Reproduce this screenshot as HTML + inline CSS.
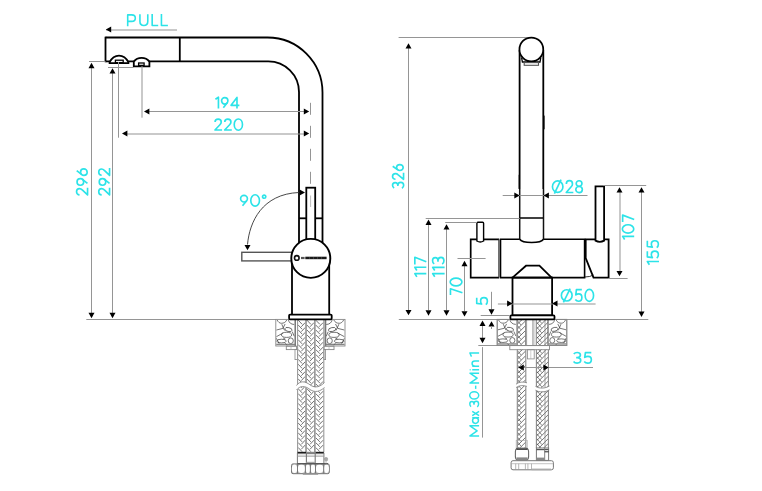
<!DOCTYPE html>
<html><head><meta charset="utf-8"><style>
html,body{margin:0;padding:0;background:#fff;}
svg{display:block;}
text{font-family:"Liberation Sans",sans-serif;stroke:#2ce3e8;stroke-width:0.15px;}
</style></head><body>
<svg width="762" height="491" viewBox="0 0 762 491">
<rect width="762" height="491" fill="#fff"/>
<path d="M105.5,37.5 H267.5 A55,55 0 0 1 322.5,92.5 V243" stroke="#000" stroke-width="1.8" fill="none" />
<path d="M105.5,61.4 H268.3 A30.7,30.7 0 0 1 299,92.1 V243" stroke="#000" stroke-width="1.8" fill="none" />
<line x1="105.5" y1="36.7" x2="105.5" y2="62.2" stroke="#000" stroke-width="1.8" />
<line x1="179.8" y1="37.5" x2="179.8" y2="61.4" stroke="#000" stroke-width="1.8" />
<path d="M109.6,63.2 H128.4 V62.2 C126,57.5 122.5,55.6 119,55.6 C115.5,55.6 112,57.5 109.6,62.2 Z" stroke="#000" stroke-width="1.8" fill="#fff" />
<rect x="115.4" y="60.2" width="7.80" height="2.40" stroke="#000" stroke-width="1.3" fill="#fff" />
<path d="M133.8,66.3 H149.4 V61.6 C147.5,59 145,57.8 141.6,57.8 C138.2,57.8 135.7,59 133.8,61.6 Z" stroke="#000" stroke-width="1.8" fill="#fff" />
<rect x="138.6" y="63" width="5.50" height="2.40" stroke="#000" stroke-width="1.3" fill="#fff" />
<line x1="299" y1="218.3" x2="306.3" y2="218.3" stroke="#000" stroke-width="1.8" />
<line x1="315.2" y1="218.3" x2="322.5" y2="218.3" stroke="#000" stroke-width="1.8" />
<rect x="306.3" y="187.7" width="8.90" height="52.30" stroke="#000" stroke-width="1.8" fill="#fff" />
<line x1="310.6" y1="195.5" x2="310.6" y2="207" stroke="#aaa" stroke-width="0.8" />
<line x1="310.5" y1="102.8" x2="310.5" y2="186" stroke="#959595" stroke-width="1" stroke-dasharray="12 11"/>
<line x1="292" y1="262" x2="292" y2="314.5" stroke="#000" stroke-width="1.8" />
<line x1="329.2" y1="262" x2="329.2" y2="314.5" stroke="#000" stroke-width="1.8" />
<rect x="241.8" y="252.3" width="51.20" height="8.60" stroke="#555" stroke-width="1.4" fill="#fff" />
<circle cx="310.8" cy="258.4" r="19.5" stroke="#000" stroke-width="1.9" fill="#fff"/>
<circle cx="296.8" cy="257.9" r="2.3" stroke="#111" stroke-width="1.6" fill="none"/>
<rect x="301" y="256.9" width="3.60" height="2.20" stroke="none" stroke-width="0" fill="#555" />
<rect x="305.3" y="256.7" width="21.30" height="2.50" stroke="none" stroke-width="0" fill="#1a1a1a" />
<rect x="309.2" y="257.4" width="0.50" height="1.20" stroke="none" stroke-width="0" fill="#888" />
<rect x="313.3" y="257.4" width="0.50" height="1.20" stroke="none" stroke-width="0" fill="#888" />
<rect x="317.4" y="257.4" width="0.50" height="1.20" stroke="none" stroke-width="0" fill="#888" />
<rect x="321.5" y="257.4" width="0.50" height="1.20" stroke="none" stroke-width="0" fill="#888" />
<path d="M247.5,244.5 C249.5,222 262,194 299,192.5" stroke="#333" stroke-width="0.9" fill="none" />
<polygon points="244.50,244.90 250.50,244.90 247.50,250.30" fill="#000"/>
<polygon points="299.60,189.50 299.60,195.50 305.00,192.50" fill="#000"/>
<g transform="matrix(1.0643,0,0,1.0250,239.80,194.30)" fill="none" stroke="#2ce3e8" stroke-width="1.65" stroke-linejoin="round"><g transform="translate(0.00,0)"><circle cx="3.95" cy="4.3" r="3.2" vector-effect="non-scaling-stroke"/><path d="M6.45,6.28 L2.55,11.2" vector-effect="non-scaling-stroke"/></g><g transform="translate(9.60,0)"><ellipse cx="4.8" cy="6" rx="4.08" ry="5.55" vector-effect="non-scaling-stroke"/></g><g transform="translate(20.90,0)"><circle cx="2.0" cy="2.3" r="1.55" vector-effect="non-scaling-stroke"/></g></g>
<line x1="106" y1="30" x2="177" y2="30" stroke="#939393" stroke-width="1" />
<polygon points="111.20,26.50 111.20,32.50 105.80,29.50" fill="#000"/>
<g transform="matrix(1.1190,0,0,1.0083,126.80,14.10)" fill="none" stroke="#2ce3e8" stroke-width="1.6" stroke-linejoin="round"><path d="M0.8,12 V0.8 H4.4 C6.4,0.8 7.6,2.1 7.6,4.0 C7.6,5.9 6.4,7.2 4.4,7.2 H0.8" vector-effect="non-scaling-stroke"/></g><g transform="matrix(1.0326,0,0,1.0083,139.10,14.10)" fill="none" stroke="#2ce3e8" stroke-width="1.6" stroke-linejoin="round"><path d="M0.8,0.2 V7.4 C0.8,10 2.4,11.3 4.6,11.3 C6.8,11.3 8.4,10 8.4,7.4 V0.2" vector-effect="non-scaling-stroke"/></g><g transform="matrix(0.9714,0,0,1.0083,151.40,14.10)" fill="none" stroke="#2ce3e8" stroke-width="1.6" stroke-linejoin="round"><path d="M0.8,0 V11.25 H7" vector-effect="non-scaling-stroke"/></g><g transform="matrix(1.0429,0,0,1.0083,160.60,14.10)" fill="none" stroke="#2ce3e8" stroke-width="1.6" stroke-linejoin="round"><path d="M0.8,0 V11.25 H7" vector-effect="non-scaling-stroke"/></g>
<line x1="89" y1="61.5" x2="105.5" y2="61.5" stroke="#959595" stroke-width="1" />
<line x1="108" y1="67.5" x2="133.5" y2="67.5" stroke="#959595" stroke-width="1" />
<line x1="91.5" y1="66" x2="91.5" y2="313" stroke="#959595" stroke-width="1" />
<polygon points="88.50,68.20 94.50,68.20 91.50,62.80" fill="#000"/>
<polygon points="88.50,312.80 94.50,312.80 91.50,318.20" fill="#000"/>
<line x1="112.5" y1="70" x2="112.5" y2="313" stroke="#959595" stroke-width="1" />
<polygon points="109.50,73.60 115.50,73.60 112.50,68.20" fill="#000"/>
<polygon points="109.50,312.80 115.50,312.80 112.50,318.20" fill="#000"/>
<g transform="matrix(0,-1.0221,1.0333,0,75.90,195.80)" fill="none" stroke="#2ce3e8" stroke-width="1.65" stroke-linejoin="round"><g transform="translate(0.00,0)"><path d="M0.95,3.5 C0.95,1.8 2.3,0.62 4.0,0.62 C5.8,0.62 7.05,1.85 7.05,3.5 C7.05,4.55 6.55,5.35 5.75,6.15 L0.85,11.28 H7.9" vector-effect="non-scaling-stroke"/></g><g transform="translate(9.60,0)"><circle cx="3.95" cy="4.3" r="3.2" vector-effect="non-scaling-stroke"/><path d="M6.45,6.28 L2.55,11.2" vector-effect="non-scaling-stroke"/></g><g transform="translate(19.20,0)"><circle cx="3.95" cy="7.7" r="3.2" vector-effect="non-scaling-stroke"/><path d="M1.45,5.72 L5.35,0.8" vector-effect="non-scaling-stroke"/></g></g>
<g transform="matrix(0,-1.0221,1.0167,0,98.10,195.80)" fill="none" stroke="#2ce3e8" stroke-width="1.65" stroke-linejoin="round"><g transform="translate(0.00,0)"><path d="M0.95,3.5 C0.95,1.8 2.3,0.62 4.0,0.62 C5.8,0.62 7.05,1.85 7.05,3.5 C7.05,4.55 6.55,5.35 5.75,6.15 L0.85,11.28 H7.9" vector-effect="non-scaling-stroke"/></g><g transform="translate(9.60,0)"><circle cx="3.95" cy="4.3" r="3.2" vector-effect="non-scaling-stroke"/><path d="M6.45,6.28 L2.55,11.2" vector-effect="non-scaling-stroke"/></g><g transform="translate(19.20,0)"><path d="M0.95,3.5 C0.95,1.8 2.3,0.62 4.0,0.62 C5.8,0.62 7.05,1.85 7.05,3.5 C7.05,4.55 6.55,5.35 5.75,6.15 L0.85,11.28 H7.9" vector-effect="non-scaling-stroke"/></g></g>
<line x1="86.3" y1="319.5" x2="276" y2="319.5" stroke="#959595" stroke-width="1" />
<line x1="118.5" y1="62" x2="118.5" y2="137.7" stroke="#959595" stroke-width="1" />
<line x1="142.0" y1="66" x2="142.0" y2="117.7" stroke="#939393" stroke-width="1" />
<line x1="148" y1="111.5" x2="304" y2="111.5" stroke="#959595" stroke-width="1" />
<polygon points="149.40,108.50 149.40,114.50 144.00,111.50" fill="#000"/>
<polygon points="303.80,108.50 303.80,114.50 309.20,111.50" fill="#000"/>
<line x1="126" y1="134" x2="304" y2="134" stroke="#939393" stroke-width="1" />
<polygon points="127.40,130.50 127.40,136.50 122.00,133.50" fill="#000"/>
<polygon points="303.80,130.50 303.80,136.50 309.20,133.50" fill="#000"/>
<g transform="matrix(0.9879,0,0,1.0083,215.00,96.50)" fill="none" stroke="#2ce3e8" stroke-width="1.65" stroke-linejoin="round"><g transform="translate(0.00,0)"><path d="M0.45,2.7 L3.48,0.72 V12" vector-effect="non-scaling-stroke"/></g><g transform="translate(5.90,0)"><circle cx="3.95" cy="4.3" r="3.2" vector-effect="non-scaling-stroke"/><path d="M6.45,6.28 L2.55,11.2" vector-effect="non-scaling-stroke"/></g><g transform="translate(15.50,0)"><path d="M6.75,12 V0.9 L0.75,8.75 H9.2" vector-effect="non-scaling-stroke"/></g></g>
<g transform="matrix(1.0104,0,0,1.0167,214.10,118.50)" fill="none" stroke="#2ce3e8" stroke-width="1.65" stroke-linejoin="round"><g transform="translate(0.00,0)"><path d="M0.95,3.5 C0.95,1.8 2.3,0.62 4.0,0.62 C5.8,0.62 7.05,1.85 7.05,3.5 C7.05,4.55 6.55,5.35 5.75,6.15 L0.85,11.28 H7.9" vector-effect="non-scaling-stroke"/></g><g transform="translate(9.60,0)"><path d="M0.95,3.5 C0.95,1.8 2.3,0.62 4.0,0.62 C5.8,0.62 7.05,1.85 7.05,3.5 C7.05,4.55 6.55,5.35 5.75,6.15 L0.85,11.28 H7.9" vector-effect="non-scaling-stroke"/></g><g transform="translate(19.20,0)"><ellipse cx="4.8" cy="6" rx="4.08" ry="5.55" vector-effect="non-scaling-stroke"/></g></g>
<line x1="398.6" y1="37.5" x2="531" y2="37.5" stroke="#959595" stroke-width="1" />
<line x1="398.8" y1="319.5" x2="648.3" y2="319.5" stroke="#959595" stroke-width="1" />
<line x1="519.6" y1="50" x2="519.6" y2="189" stroke="#000" stroke-width="1.8" />
<line x1="543.3" y1="50" x2="543.3" y2="189" stroke="#000" stroke-width="1.8" />
<line x1="519.7" y1="189" x2="519.7" y2="239.6" stroke="#111" stroke-width="1.5" />
<line x1="543.5" y1="189" x2="543.5" y2="239.6" stroke="#111" stroke-width="1.5" />
<line x1="519.2" y1="174.8" x2="519.2" y2="188.8" stroke="#000" stroke-width="1.0" />
<line x1="544.1" y1="115.6" x2="544.1" y2="129.3" stroke="#000" stroke-width="1.0" />
<line x1="519.7" y1="218" x2="543.5" y2="218" stroke="#111" stroke-width="1.6" />
<path d="M519.7,239.3 C522.5,243.6 540.7,243.6 543.5,239.3" stroke="#000" stroke-width="1.6" fill="none" />
<circle cx="531.35" cy="49.4" r="11.9" stroke="#000" stroke-width="1.75" fill="#fff"/>
<path d="M527,61.6 Q531.3,62.6 535.6,61.6" stroke="#000" stroke-width="1.6" fill="none"/>
<path d="M521.6,57.6 L522.4,62 H540 L540.8,57.6" stroke="#000" stroke-width="1.3" fill="none" />
<rect x="524.2" y="62.6" width="14.30" height="2.70" stroke="#555" stroke-width="1.1" fill="none" />
<path d="M519.7,239.3 H500.5 V277.6 H584.6 V239.3 H543.5" stroke="#000" stroke-width="1.6" fill="none" />
<path d="M499.0,239.3 H470.7 V277.6 H499.0" stroke="#000" stroke-width="1.7" fill="none" />
<line x1="498.9" y1="239.3" x2="498.9" y2="277.6" stroke="#333" stroke-width="1.2" />
<path d="M476.9,241 V223.2 Q476.9,222.2 477.9,222.2 H482.6 Q483.6,222.2 483.6,223.2 V241 Q480.25,243 476.9,241 Z" stroke="#000" stroke-width="1.4" fill="#fff" />
<path d="M585.7,239.3 H608.6 V277.6 H593.5 L585.7,258 Z" stroke="#000" stroke-width="1.8" fill="none" />
<path d="M584.6,277 Q590,277 593.5,275" stroke="#000" stroke-width="0.8" fill="none" />
<path d="M595.5,240.6 V186.4 H604.1 V240.6 Q599.8,243 595.5,240.6 Z" stroke="#000" stroke-width="1.8" fill="#fff" />
<path d="M512.5,277.6 L526,265.7 H539.4 L551.6,277.6" stroke="#000" stroke-width="1.8" fill="none" />
<rect x="512.5" y="277.6" width="39.60" height="37.80" stroke="#000" stroke-width="1.8" fill="none" />
<line x1="408.5" y1="48" x2="408.5" y2="310" stroke="#959595" stroke-width="1" />
<polygon points="405.50,48.60 411.50,48.60 408.50,43.20" fill="#000"/>
<polygon points="405.50,309.90 411.50,309.90 408.50,315.30" fill="#000"/>
<g transform="matrix(0,-0.9257,1.0333,0,391.90,188.80)" fill="none" stroke="#2ce3e8" stroke-width="1.65" stroke-linejoin="round"><g transform="translate(0.00,0)"><path d="M0.8,2.2 C1.5,1.1 2.6,0.62 3.8,0.62 C5.5,0.62 6.7,1.7 6.7,3.2 C6.7,4.75 5.5,5.75 3.8,5.75 H2.9 M3.8,5.75 C5.75,5.75 6.98,6.95 6.98,8.6 C6.98,10.3 5.6,11.38 3.75,11.38 C2.4,11.38 1.25,10.8 0.6,9.7" vector-effect="non-scaling-stroke"/></g><g transform="translate(9.40,0)"><path d="M0.95,3.5 C0.95,1.8 2.3,0.62 4.0,0.62 C5.8,0.62 7.05,1.85 7.05,3.5 C7.05,4.55 6.55,5.35 5.75,6.15 L0.85,11.28 H7.9" vector-effect="non-scaling-stroke"/></g><g transform="translate(19.00,0)"><circle cx="3.95" cy="7.7" r="3.2" vector-effect="non-scaling-stroke"/><path d="M1.45,5.72 L5.35,0.8" vector-effect="non-scaling-stroke"/></g></g>
<line x1="425.7" y1="218.5" x2="519.7" y2="218.5" stroke="#959595" stroke-width="1" />
<line x1="445.2" y1="222.5" x2="477" y2="222.5" stroke="#959595" stroke-width="1" />
<line x1="457.5" y1="258.5" x2="485.6" y2="258.5" stroke="#959595" stroke-width="1" />
<line x1="428.5" y1="224" x2="428.5" y2="310" stroke="#959595" stroke-width="1" />
<polygon points="425.50,225.00 431.50,225.00 428.50,219.60" fill="#000"/>
<polygon points="425.50,310.30 431.50,310.30 428.50,315.70" fill="#000"/>
<line x1="446.5" y1="228" x2="446.5" y2="310" stroke="#959595" stroke-width="1" />
<polygon points="443.50,229.60 449.50,229.60 446.50,224.20" fill="#000"/>
<polygon points="443.50,310.30 449.50,310.30 446.50,315.70" fill="#000"/>
<line x1="464.5" y1="265" x2="464.5" y2="311" stroke="#959595" stroke-width="1" />
<polygon points="461.50,266.20 467.50,266.20 464.50,260.80" fill="#000"/>
<polygon points="461.50,311.20 467.50,311.20 464.50,316.60" fill="#000"/>
<g transform="matrix(0,-1.0670,1.0167,0,414.10,277.30)" fill="none" stroke="#2ce3e8" stroke-width="1.65" stroke-linejoin="round"><g transform="translate(0.00,0)"><path d="M0.45,2.7 L3.48,0.72 V12" vector-effect="non-scaling-stroke"/></g><g transform="translate(5.90,0)"><path d="M0.45,2.7 L3.48,0.72 V12" vector-effect="non-scaling-stroke"/></g><g transform="translate(11.80,0)"><path d="M0.3,0.72 H7.0 L2.7,12" vector-effect="non-scaling-stroke"/></g></g>
<g transform="matrix(0,-1.0615,1.0583,0,431.90,277.30)" fill="none" stroke="#2ce3e8" stroke-width="1.65" stroke-linejoin="round"><g transform="translate(0.00,0)"><path d="M0.45,2.7 L3.48,0.72 V12" vector-effect="non-scaling-stroke"/></g><g transform="translate(5.90,0)"><path d="M0.45,2.7 L3.48,0.72 V12" vector-effect="non-scaling-stroke"/></g><g transform="translate(11.80,0)"><path d="M0.8,2.2 C1.5,1.1 2.6,0.62 3.8,0.62 C5.5,0.62 6.7,1.7 6.7,3.2 C6.7,4.75 5.5,5.75 3.8,5.75 H2.9 M3.8,5.75 C5.75,5.75 6.98,6.95 6.98,8.6 C6.98,10.3 5.6,11.38 3.75,11.38 C2.4,11.38 1.25,10.8 0.6,9.7" vector-effect="non-scaling-stroke"/></g></g>
<g transform="matrix(0,-0.9418,1.0583,0,449.70,295.30)" fill="none" stroke="#2ce3e8" stroke-width="1.65" stroke-linejoin="round"><g transform="translate(0.00,0)"><path d="M0.3,0.72 H7.0 L2.7,12" vector-effect="non-scaling-stroke"/></g><g transform="translate(9.30,0)"><ellipse cx="4.8" cy="6" rx="4.08" ry="5.55" vector-effect="non-scaling-stroke"/></g></g>
<g transform="matrix(0,-1.0897,1.0000,0,476.00,305.30)" fill="none" stroke="#2ce3e8" stroke-width="1.65" stroke-linejoin="round"><g transform="translate(0.00,0)"><path d="M7.0,0.72 H1.75 L1.15,5.6 C1.95,4.95 2.95,4.6 4.0,4.6 C5.85,4.6 7.05,5.95 7.05,7.95 C7.05,10.05 5.6,11.38 3.8,11.38 C2.45,11.38 1.35,10.75 0.7,9.8" vector-effect="non-scaling-stroke"/></g></g>
<line x1="491.5" y1="291.8" x2="491.5" y2="309" stroke="#959595" stroke-width="1" />
<polygon points="488.50,309.30 494.50,309.30 491.50,314.70" fill="#000"/>
<line x1="480.7" y1="315.5" x2="509.5" y2="315.5" stroke="#959595" stroke-width="1" />
<polygon points="488.50,326.60 494.50,326.60 491.50,321.20" fill="#000"/>
<line x1="491.5" y1="326" x2="491.5" y2="329" stroke="#959595" stroke-width="1" />
<line x1="482.5" y1="326" x2="482.5" y2="338" stroke="#959595" stroke-width="1" />
<polygon points="479.50,326.00 485.50,326.00 482.50,320.60" fill="#000"/>
<polygon points="479.50,337.80 485.50,337.80 482.50,343.20" fill="#000"/>
<line x1="478.3" y1="345.5" x2="497.6" y2="345.5" stroke="#959595" stroke-width="1" />
<line x1="482.5" y1="347.1" x2="482.5" y2="437.6" stroke="#959595" stroke-width="1" />
<g transform="matrix(0,-0.8582,0.8167,0,469.30,436.60)" fill="none" stroke="#2ce3e8" stroke-width="1.45" stroke-linejoin="round"><path d="M0.8,12 V0.8 L6.7,9.6 L12.6,0.8 V12" vector-effect="non-scaling-stroke"/></g><g transform="matrix(0,-0.8353,0.8167,0,469.30,424.10)" fill="none" stroke="#2ce3e8" stroke-width="1.45" stroke-linejoin="round"><ellipse cx="4.2" cy="7.6" rx="3.4" ry="3.6" vector-effect="non-scaling-stroke"/><path d="M7.7,3.6 V12" vector-effect="non-scaling-stroke"/></g><g transform="matrix(0,-0.7727,0.8167,0,469.30,416.00)" fill="none" stroke="#2ce3e8" stroke-width="1.45" stroke-linejoin="round"><path d="M0.6,3.6 L6,12 M6,3.6 L0.6,12" vector-effect="non-scaling-stroke"/></g><g transform="matrix(0,-0.8571,0.8167,0,469.30,407.30)" fill="none" stroke="#2ce3e8" stroke-width="1.45" stroke-linejoin="round"><path d="M0.8,2.2 C1.5,1.1 2.6,0.62 3.8,0.62 C5.5,0.62 6.7,1.7 6.7,3.2 C6.7,4.75 5.5,5.75 3.8,5.75 H2.9 M3.8,5.75 C5.75,5.75 6.98,6.95 6.98,8.6 C6.98,10.3 5.6,11.38 3.75,11.38 C2.4,11.38 1.25,10.8 0.6,9.7" vector-effect="non-scaling-stroke"/></g><g transform="matrix(0,-0.9062,0.8167,0,469.30,399.70)" fill="none" stroke="#2ce3e8" stroke-width="1.45" stroke-linejoin="round"><ellipse cx="4.8" cy="6" rx="4.08" ry="5.55" vector-effect="non-scaling-stroke"/></g><g transform="matrix(0,-0.8367,0.8167,0,469.30,389.30)" fill="none" stroke="#2ce3e8" stroke-width="1.45" stroke-linejoin="round"><path d="M0.5,7.8 H4.4" vector-effect="non-scaling-stroke"/></g><g transform="matrix(0,-0.8358,0.8167,0,469.30,383.70)" fill="none" stroke="#2ce3e8" stroke-width="1.45" stroke-linejoin="round"><path d="M0.8,12 V0.8 L6.7,9.6 L12.6,0.8 V12" vector-effect="non-scaling-stroke"/></g><g transform="matrix(0,-0.8421,0.8167,0,469.30,370.50)" fill="none" stroke="#2ce3e8" stroke-width="1.45" stroke-linejoin="round"><path d="M0.95,3.6 V12 M0.95,0.5 V1.6" vector-effect="non-scaling-stroke"/></g><g transform="matrix(0,-0.8354,0.8167,0,469.30,366.90)" fill="none" stroke="#2ce3e8" stroke-width="1.45" stroke-linejoin="round"><path d="M0.8,12 V3.6 M0.8,7.4 C0.8,5 2.4,3.4 4.4,3.4 C6.2,3.4 7.1,4.7 7.1,6.8 V12" vector-effect="non-scaling-stroke"/></g><g transform="matrix(0,-1.2143,0.8167,0,469.30,357.20)" fill="none" stroke="#2ce3e8" stroke-width="1.45" stroke-linejoin="round"><path d="M0.45,2.7 L3.48,0.72 V12" vector-effect="non-scaling-stroke"/></g>
<line x1="502.7" y1="195.5" x2="587.5" y2="195.5" stroke="#959595" stroke-width="1" />
<polygon points="514.30,192.50 514.30,198.50 519.70,195.50" fill="#000"/>
<polygon points="548.90,192.50 548.90,198.50 543.50,195.50" fill="#000"/>
<g transform="matrix(1.0064,0,0,1.1083,551.70,180.00)" fill="none" stroke="#2ce3e8" stroke-width="1.65" stroke-linejoin="round"><g transform="translate(0.00,0)"><ellipse cx="5.95" cy="6" rx="5.2" ry="5.2" vector-effect="non-scaling-stroke"/><path d="M2.7,12.35 L9.3,-0.35" vector-effect="non-scaling-stroke"/></g><g transform="translate(13.60,0)"><path d="M0.95,3.5 C0.95,1.8 2.3,0.62 4.0,0.62 C5.8,0.62 7.05,1.85 7.05,3.5 C7.05,4.55 6.55,5.35 5.75,6.15 L0.85,11.28 H7.9" vector-effect="non-scaling-stroke"/></g><g transform="translate(23.20,0)"><ellipse cx="4" cy="3.15" rx="2.85" ry="2.5" vector-effect="non-scaling-stroke"/><ellipse cx="4" cy="8.6" rx="3.25" ry="2.75" vector-effect="non-scaling-stroke"/></g></g>
<line x1="497.9" y1="304" x2="595.6" y2="304" stroke="#939393" stroke-width="1" />
<polygon points="507.10,300.50 507.10,306.50 512.50,303.50" fill="#000"/>
<polygon points="557.50,300.50 557.50,306.50 552.10,303.50" fill="#000"/>
<g transform="matrix(1.0306,0,0,1.0833,560.60,288.90)" fill="none" stroke="#2ce3e8" stroke-width="1.65" stroke-linejoin="round"><g transform="translate(0.00,0)"><ellipse cx="5.95" cy="6" rx="5.2" ry="5.2" vector-effect="non-scaling-stroke"/><path d="M2.7,12.35 L9.3,-0.35" vector-effect="non-scaling-stroke"/></g><g transform="translate(13.60,0)"><path d="M7.0,0.72 H1.75 L1.15,5.6 C1.95,4.95 2.95,4.6 4.0,4.6 C5.85,4.6 7.05,5.95 7.05,7.95 C7.05,10.05 5.6,11.38 3.8,11.38 C2.45,11.38 1.35,10.75 0.7,9.8" vector-effect="non-scaling-stroke"/></g><g transform="translate(23.10,0)"><ellipse cx="4.8" cy="6" rx="4.08" ry="5.55" vector-effect="non-scaling-stroke"/></g></g>
<line x1="603" y1="185.5" x2="646.2" y2="185.5" stroke="#959595" stroke-width="1" />
<line x1="608" y1="278.5" x2="627.6" y2="278.5" stroke="#959595" stroke-width="1" />
<line x1="620.0" y1="192" x2="620.0" y2="271" stroke="#939393" stroke-width="1" />
<polygon points="616.50,192.60 622.50,192.60 619.50,187.20" fill="#000"/>
<polygon points="616.50,270.90 622.50,270.90 619.50,276.30" fill="#000"/>
<line x1="641.5" y1="192" x2="641.5" y2="312" stroke="#959595" stroke-width="1" />
<polygon points="638.50,192.60 644.50,192.60 641.50,187.20" fill="#000"/>
<polygon points="638.50,311.60 644.50,311.60 641.50,317.00" fill="#000"/>
<g transform="matrix(0,-1.0242,1.0250,0,621.90,239.90)" fill="none" stroke="#2ce3e8" stroke-width="1.65" stroke-linejoin="round"><g transform="translate(0.00,0)"><path d="M0.45,2.7 L3.48,0.72 V12" vector-effect="non-scaling-stroke"/></g><g transform="translate(5.90,0)"><ellipse cx="4.8" cy="6" rx="4.08" ry="5.55" vector-effect="non-scaling-stroke"/></g><g transform="translate(17.20,0)"><path d="M0.3,0.72 H7.0 L2.7,12" vector-effect="non-scaling-stroke"/></g></g>
<g transform="matrix(0,-1.0948,1.0333,0,646.60,265.30)" fill="none" stroke="#2ce3e8" stroke-width="1.65" stroke-linejoin="round"><g transform="translate(0.00,0)"><path d="M0.45,2.7 L3.48,0.72 V12" vector-effect="non-scaling-stroke"/></g><g transform="translate(5.90,0)"><path d="M7.0,0.72 H1.75 L1.15,5.6 C1.95,4.95 2.95,4.6 4.0,4.6 C5.85,4.6 7.05,5.95 7.05,7.95 C7.05,10.05 5.6,11.38 3.8,11.38 C2.45,11.38 1.35,10.75 0.7,9.8" vector-effect="non-scaling-stroke"/></g><g transform="translate(15.40,0)"><path d="M7.0,0.72 H1.75 L1.15,5.6 C1.95,4.95 2.95,4.6 4.0,4.6 C5.85,4.6 7.05,5.95 7.05,7.95 C7.05,10.05 5.6,11.38 3.8,11.38 C2.45,11.38 1.35,10.75 0.7,9.8" vector-effect="non-scaling-stroke"/></g></g>
<g transform="matrix(1.1221,0,0,0.9833,572.90,351.90)" fill="none" stroke="#2ce3e8" stroke-width="1.65" stroke-linejoin="round"><g transform="translate(0.00,0)"><path d="M0.8,2.2 C1.5,1.1 2.6,0.62 3.8,0.62 C5.5,0.62 6.7,1.7 6.7,3.2 C6.7,4.75 5.5,5.75 3.8,5.75 H2.9 M3.8,5.75 C5.75,5.75 6.98,6.95 6.98,8.6 C6.98,10.3 5.6,11.38 3.75,11.38 C2.4,11.38 1.25,10.8 0.6,9.7" vector-effect="non-scaling-stroke"/></g><g transform="translate(9.40,0)"><path d="M7.0,0.72 H1.75 L1.15,5.6 C1.95,4.95 2.95,4.6 4.0,4.6 C5.85,4.6 7.05,5.95 7.05,7.95 C7.05,10.05 5.6,11.38 3.8,11.38 C2.45,11.38 1.35,10.75 0.7,9.8" vector-effect="non-scaling-stroke"/></g></g>
<g transform="translate(275.8,319.4) scale(0.9800000000000001,1.0230769230769232)" fill="none" stroke="#3a3a3a" stroke-width="0.7">
<path d="M1.25,0.4 C2.5,2.8 4,3.8 5.8,3.8 C8,3.8 10,3 11.3,0.4"/>
<path d="M12.9,0.6 C13.5,3.2 15.5,4.8 18.8,5"/>
<ellipse cx="12.9" cy="9.9" rx="3.7" ry="1.9" transform="rotate(12 12.9 9.9)"/>
<ellipse cx="11" cy="15.1" rx="5.2" ry="2.5"/>
<ellipse cx="5.8" cy="21.2" rx="4.9" ry="1.8"/>
<ellipse cx="15.3" cy="20.9" rx="2.6" ry="2.8"/>
<path d="M0.6,16.9 L7.4,13.3 M6.1,4.7 L8.9,10.8 M9.5,4.5 L7.2,8.8 L0.6,10.4 M0.6,18.5 L3.5,23.8 M9.5,23.2 L11.5,25.3 M16.8,12 L18.8,16.5 M7.5,18.2 L9.8,19.3 M0.5,24.6 H19.5"/>
</g>
<rect x="275.8" y="319.4" width="19.60" height="26.60" stroke="#888" stroke-width="0.9" fill="none" />
<line x1="276.3" y1="344.0" x2="294.90000000000003" y2="344.0" stroke="#999" stroke-width="0.7" />
<g transform="translate(345.0,319.4) scale(-1.0,1.0230769230769232)" fill="none" stroke="#3a3a3a" stroke-width="0.7">
<path d="M1.25,0.4 C2.5,2.8 4,3.8 5.8,3.8 C8,3.8 10,3 11.3,0.4"/>
<path d="M12.9,0.6 C13.5,3.2 15.5,4.8 18.8,5"/>
<ellipse cx="12.9" cy="9.9" rx="3.7" ry="1.9" transform="rotate(12 12.9 9.9)"/>
<ellipse cx="11" cy="15.1" rx="5.2" ry="2.5"/>
<ellipse cx="5.8" cy="21.2" rx="4.9" ry="1.8"/>
<ellipse cx="15.3" cy="20.9" rx="2.6" ry="2.8"/>
<path d="M0.6,16.9 L7.4,13.3 M6.1,4.7 L8.9,10.8 M9.5,4.5 L7.2,8.8 L0.6,10.4 M0.6,18.5 L3.5,23.8 M9.5,23.2 L11.5,25.3 M16.8,12 L18.8,16.5 M7.5,18.2 L9.8,19.3 M0.5,24.6 H19.5"/>
</g>
<rect x="325.0" y="319.4" width="20.00" height="26.60" stroke="#888" stroke-width="0.9" fill="none" />
<line x1="325.5" y1="344.0" x2="344.5" y2="344.0" stroke="#999" stroke-width="0.7" />
<line x1="295.2" y1="319.4" x2="295.2" y2="346" stroke="#777" stroke-width="1.4" />
<line x1="325.6" y1="319.4" x2="325.6" y2="346" stroke="#777" stroke-width="1.4" />
<rect x="286.3" y="346.2" width="10.30" height="3.40" stroke="#888" stroke-width="0.9" fill="none" />
<rect x="324.0" y="346.2" width="10.00" height="3.40" stroke="#888" stroke-width="0.9" fill="none" />
<line x1="291" y1="346.2" x2="291" y2="349.6" stroke="#aaa" stroke-width="0.6" />
<line x1="329" y1="346.2" x2="329" y2="349.6" stroke="#aaa" stroke-width="0.6" />
<rect x="295.0" y="349.6" width="2.40" height="10.00" stroke="#888" stroke-width="0.8" fill="none" />
<rect x="323.9" y="349.6" width="1.70" height="10.00" stroke="#888" stroke-width="0.8" fill="none" />
<path d="M298.20,320.10 L302.10,324.30 M301.30,326.75 L305.20,322.55 M298.20,325.00 L302.10,329.20 M301.30,331.65 L305.20,327.45 M298.20,329.90 L302.10,334.10 M301.30,336.55 L305.20,332.35 M298.20,334.80 L302.10,339.00 M301.30,341.45 L305.20,337.25 M298.20,339.70 L302.10,343.90 M301.30,346.35 L305.20,342.15 M298.20,344.60 L302.10,348.80 M301.30,351.25 L305.20,347.05 M298.20,349.50 L302.10,353.70 M301.30,356.15 L305.20,351.95 M298.20,354.40 L302.10,358.60 M301.30,361.05 L305.20,356.85 M298.20,359.30 L302.10,363.50 M301.30,365.95 L305.20,361.75 M298.20,364.20 L302.10,368.40 M301.30,370.85 L305.20,366.65 M298.20,369.10 L302.10,373.30 M301.30,375.75 L305.20,371.55 M298.20,374.00 L302.10,378.20 M301.30,380.65 L305.20,376.45 M298.20,378.90 L302.10,383.10 M301.30,385.55 L305.20,381.35 M298.20,383.80 L302.10,388.00 M301.30,390.45 L305.20,386.25 M298.20,388.70 L302.10,392.90 M301.30,395.35 L305.20,391.15 M298.20,393.60 L302.10,397.80 M301.30,400.25 L305.20,396.05 M298.20,398.50 L302.10,402.70 M301.30,405.15 L305.20,400.95 M298.20,403.40 L302.10,407.60 M301.30,410.05 L305.20,405.85 M298.20,408.30 L302.10,412.50 M301.30,414.95 L305.20,410.75 M298.20,413.20 L302.10,417.40 M301.30,419.85 L305.20,415.65 M298.20,418.10 L302.10,422.30 M301.30,424.75 L305.20,420.55 M298.20,423.00 L302.10,427.20 M301.30,429.65 L305.20,425.45 M298.20,427.90 L302.10,432.10 M301.30,434.55 L305.20,430.35 M298.20,432.80 L302.10,437.00 M301.30,439.45 L305.20,435.25 M298.20,437.70 L302.10,441.90 M301.30,444.35 L305.20,440.15 M298.20,442.60 L302.10,446.80 M301.30,449.25 L305.20,445.05 M298.20,447.50 L302.10,451.70 " stroke="#444" stroke-width="0.75" fill="none"/>
<line x1="297.6" y1="319.6" x2="297.6" y2="452.2" stroke="#999" stroke-width="1.1" />
<line x1="305.8" y1="319.6" x2="305.8" y2="452.2" stroke="#999" stroke-width="1.1" />
<path d="M306.90,320.10 L310.85,324.30 M310.05,326.75 L314.00,322.55 M306.90,325.00 L310.85,329.20 M310.05,331.65 L314.00,327.45 M306.90,329.90 L310.85,334.10 M310.05,336.55 L314.00,332.35 M306.90,334.80 L310.85,339.00 M310.05,341.45 L314.00,337.25 M306.90,339.70 L310.85,343.90 M310.05,346.35 L314.00,342.15 M306.90,344.60 L310.85,348.80 M310.05,351.25 L314.00,347.05 M306.90,349.50 L310.85,353.70 M310.05,356.15 L314.00,351.95 M306.90,354.40 L310.85,358.60 M310.05,361.05 L314.00,356.85 M306.90,359.30 L310.85,363.50 M310.05,365.95 L314.00,361.75 M306.90,364.20 L310.85,368.40 M310.05,370.85 L314.00,366.65 M306.90,369.10 L310.85,373.30 M310.05,375.75 L314.00,371.55 M306.90,374.00 L310.85,378.20 M310.05,380.65 L314.00,376.45 M306.90,378.90 L310.85,383.10 M310.05,385.55 L314.00,381.35 M306.90,383.80 L310.85,388.00 M310.05,390.45 L314.00,386.25 M306.90,388.70 L310.85,392.90 M310.05,395.35 L314.00,391.15 M306.90,393.60 L310.85,397.80 M310.05,400.25 L314.00,396.05 M306.90,398.50 L310.85,402.70 M310.05,405.15 L314.00,400.95 M306.90,403.40 L310.85,407.60 M310.05,410.05 L314.00,405.85 M306.90,408.30 L310.85,412.50 M310.05,414.95 L314.00,410.75 M306.90,413.20 L310.85,417.40 M310.05,419.85 L314.00,415.65 M306.90,418.10 L310.85,422.30 M310.05,424.75 L314.00,420.55 M306.90,423.00 L310.85,427.20 M310.05,429.65 L314.00,425.45 M306.90,427.90 L310.85,432.10 M310.05,434.55 L314.00,430.35 M306.90,432.80 L310.85,437.00 M310.05,439.45 L314.00,435.25 M306.90,437.70 L310.85,441.90 M310.05,444.35 L314.00,440.15 M306.90,442.60 L310.85,446.80 M310.05,449.25 L314.00,445.05 M306.90,447.50 L310.85,451.70 " stroke="#444" stroke-width="0.75" fill="none"/>
<line x1="306.3" y1="319.6" x2="306.3" y2="452.2" stroke="#999" stroke-width="1.1" />
<line x1="314.6" y1="319.6" x2="314.6" y2="452.2" stroke="#999" stroke-width="1.1" />
<path d="M315.70,320.10 L319.85,324.30 M319.05,326.75 L323.20,322.55 M315.70,325.00 L319.85,329.20 M319.05,331.65 L323.20,327.45 M315.70,329.90 L319.85,334.10 M319.05,336.55 L323.20,332.35 M315.70,334.80 L319.85,339.00 M319.05,341.45 L323.20,337.25 M315.70,339.70 L319.85,343.90 M319.05,346.35 L323.20,342.15 M315.70,344.60 L319.85,348.80 M319.05,351.25 L323.20,347.05 M315.70,349.50 L319.85,353.70 M319.05,356.15 L323.20,351.95 M315.70,354.40 L319.85,358.60 M319.05,361.05 L323.20,356.85 M315.70,359.30 L319.85,363.50 M319.05,365.95 L323.20,361.75 M315.70,364.20 L319.85,368.40 M319.05,370.85 L323.20,366.65 M315.70,369.10 L319.85,373.30 M319.05,375.75 L323.20,371.55 M315.70,374.00 L319.85,378.20 M319.05,380.65 L323.20,376.45 M315.70,378.90 L319.85,383.10 M319.05,385.55 L323.20,381.35 M315.70,383.80 L319.85,388.00 M319.05,390.45 L323.20,386.25 M315.70,388.70 L319.85,392.90 M319.05,395.35 L323.20,391.15 M315.70,393.60 L319.85,397.80 M319.05,400.25 L323.20,396.05 M315.70,398.50 L319.85,402.70 M319.05,405.15 L323.20,400.95 M315.70,403.40 L319.85,407.60 M319.05,410.05 L323.20,405.85 M315.70,408.30 L319.85,412.50 M319.05,414.95 L323.20,410.75 M315.70,413.20 L319.85,417.40 M319.05,419.85 L323.20,415.65 M315.70,418.10 L319.85,422.30 M319.05,424.75 L323.20,420.55 M315.70,423.00 L319.85,427.20 M319.05,429.65 L323.20,425.45 M315.70,427.90 L319.85,432.10 M319.05,434.55 L323.20,430.35 M315.70,432.80 L319.85,437.00 M319.05,439.45 L323.20,435.25 M315.70,437.70 L319.85,441.90 M319.05,444.35 L323.20,440.15 M315.70,442.60 L319.85,446.80 M319.05,449.25 L323.20,445.05 M315.70,447.50 L319.85,451.70 " stroke="#444" stroke-width="0.75" fill="none"/>
<line x1="315.1" y1="319.6" x2="315.1" y2="452.2" stroke="#999" stroke-width="1.1" />
<line x1="323.8" y1="319.6" x2="323.8" y2="452.2" stroke="#999" stroke-width="1.1" />
<path d="M296,386 C300,380 305,381 310,385 C315,389 320,387 325,382 L325,388 C320,392 315,393 310,390 C305,386 300,386 296,391 Z" fill="#fff" stroke="none"/>
<path d="M296.5,385.5 C300,380.5 305,381 310,384.8 C315,388.5 320,387 324.5,382.5" fill="none" stroke="#777" stroke-width="0.8"/>
<path d="M296.5,390 C300,385.5 305,385.5 310,389.5 C315,393 320,391.5 324.5,387.5" fill="none" stroke="#777" stroke-width="0.8"/>
<line x1="297.4" y1="452.6" x2="306.0" y2="452.6" stroke="#111" stroke-width="1.6" />
<line x1="315.4" y1="452.6" x2="323.8" y2="452.6" stroke="#111" stroke-width="1.6" />
<line x1="306.0" y1="452.6" x2="315.4" y2="452.6" stroke="#888" stroke-width="1.6" />
<rect x="297.4" y="453.4" width="26.50" height="10.20" stroke="#777" stroke-width="1" fill="none" />
<line x1="297.4" y1="455.1" x2="323.9" y2="455.1" stroke="#aaa" stroke-width="0.7" />
<line x1="297.4" y1="456.4" x2="323.9" y2="456.4" stroke="#999" stroke-width="0.7" />
<line x1="306.4" y1="453.4" x2="306.4" y2="463.6" stroke="#777" stroke-width="1.1" />
<line x1="315.2" y1="453.4" x2="315.2" y2="463.6" stroke="#777" stroke-width="1.1" />
<rect x="306.4" y="461.8" width="8.80" height="2.00" stroke="none" stroke-width="0" fill="#aaa" />
<rect x="291.5" y="463.9" width="37.8" height="9.8" rx="1.5" fill="#b8b8b8" stroke="#777" stroke-width="1"/>
<ellipse cx="294.50" cy="468.8" rx="2.70" ry="4.3" fill="#fff"/>
<ellipse cx="301.45" cy="468.8" rx="3.65" ry="4.3" fill="#fff"/>
<ellipse cx="307.90" cy="468.8" rx="2.20" ry="4.3" fill="#fff"/>
<ellipse cx="312.95" cy="468.8" rx="2.25" ry="4.3" fill="#fff"/>
<ellipse cx="319.60" cy="468.8" rx="3.80" ry="4.3" fill="#fff"/>
<ellipse cx="326.50" cy="468.8" rx="2.50" ry="4.3" fill="#fff"/>
<line x1="297.5" y1="464.2" x2="297.5" y2="473.4" stroke="#666" stroke-width="0.8" />
<line x1="305.4" y1="464.2" x2="305.4" y2="473.4" stroke="#666" stroke-width="0.8" />
<line x1="310.4" y1="464.2" x2="310.4" y2="473.4" stroke="#666" stroke-width="0.8" />
<line x1="315.5" y1="464.2" x2="315.5" y2="473.4" stroke="#666" stroke-width="0.8" />
<line x1="323.7" y1="464.2" x2="323.7" y2="473.4" stroke="#666" stroke-width="0.8" />
<line x1="297.4" y1="463.7" x2="328" y2="463.7" stroke="#555" stroke-width="1.2" />
<rect x="302.8" y="473.5" width="15.30" height="1.30" stroke="none" stroke-width="0" fill="#999" />
<rect x="324.6" y="457.6" width="3" height="3.2" rx="1" fill="#aaa" stroke="#888" stroke-width="0.5"/>
<line x1="326" y1="460.8" x2="326" y2="463.5" stroke="#999" stroke-width="0.6" />
<g transform="translate(497.2,319.4) scale(0.99,1.0038461538461538)" fill="none" stroke="#3a3a3a" stroke-width="0.7">
<path d="M1.25,0.4 C2.5,2.8 4,3.8 5.8,3.8 C8,3.8 10,3 11.3,0.4"/>
<path d="M12.9,0.6 C13.5,3.2 15.5,4.8 18.8,5"/>
<ellipse cx="12.9" cy="9.9" rx="3.7" ry="1.9" transform="rotate(12 12.9 9.9)"/>
<ellipse cx="11" cy="15.1" rx="5.2" ry="2.5"/>
<ellipse cx="5.8" cy="21.2" rx="4.9" ry="1.8"/>
<ellipse cx="15.3" cy="20.9" rx="2.6" ry="2.8"/>
<path d="M0.6,16.9 L7.4,13.3 M6.1,4.7 L8.9,10.8 M9.5,4.5 L7.2,8.8 L0.6,10.4 M0.6,18.5 L3.5,23.8 M9.5,23.2 L11.5,25.3 M16.8,12 L18.8,16.5 M7.5,18.2 L9.8,19.3 M0.5,24.6 H19.5"/>
</g>
<rect x="497.2" y="319.4" width="19.80" height="26.10" stroke="#888" stroke-width="0.9" fill="none" />
<line x1="497.7" y1="343.5" x2="516.5" y2="343.5" stroke="#999" stroke-width="0.7" />
<g transform="translate(566.8,319.4) scale(-0.95,1.0038461538461538)" fill="none" stroke="#3a3a3a" stroke-width="0.7">
<path d="M1.25,0.4 C2.5,2.8 4,3.8 5.8,3.8 C8,3.8 10,3 11.3,0.4"/>
<path d="M12.9,0.6 C13.5,3.2 15.5,4.8 18.8,5"/>
<ellipse cx="12.9" cy="9.9" rx="3.7" ry="1.9" transform="rotate(12 12.9 9.9)"/>
<ellipse cx="11" cy="15.1" rx="5.2" ry="2.5"/>
<ellipse cx="5.8" cy="21.2" rx="4.9" ry="1.8"/>
<ellipse cx="15.3" cy="20.9" rx="2.6" ry="2.8"/>
<path d="M0.6,16.9 L7.4,13.3 M6.1,4.7 L8.9,10.8 M9.5,4.5 L7.2,8.8 L0.6,10.4 M0.6,18.5 L3.5,23.8 M9.5,23.2 L11.5,25.3 M16.8,12 L18.8,16.5 M7.5,18.2 L9.8,19.3 M0.5,24.6 H19.5"/>
</g>
<rect x="547.8" y="319.4" width="19.00" height="26.10" stroke="#888" stroke-width="0.9" fill="none" />
<line x1="548.3" y1="343.5" x2="566.3" y2="343.5" stroke="#999" stroke-width="0.7" />
<rect x="497.2" y="319.4" width="69.60" height="26.10" stroke="#888" stroke-width="0.9" fill="none" />
<clipPath id="hc1"><rect x="517.2" y="319.6" width="8.40" height="25.80"/></clipPath>
<g clip-path="url(#hc1)"><path d="M517.20,319.60 L525.60,311.20 M517.20,324.40 L525.60,316.00 M517.20,329.20 L525.60,320.80 M517.20,334.00 L525.60,325.60 M517.20,338.80 L525.60,330.40 M517.20,343.60 L525.60,335.20 M517.20,348.40 L525.60,340.00 M517.20,353.20 L525.60,344.80 M517.20,358.00 L525.60,349.60 " stroke="#3a3a3a" stroke-width="0.7" fill="none"/><path d="M517.50,311.20 L520.98,315.40 M517.50,316.00 L520.98,320.20 M517.50,320.80 L520.98,325.00 M517.50,325.60 L520.98,329.80 M517.50,330.40 L520.98,334.60 M517.50,335.20 L520.98,339.40 M517.50,340.00 L520.98,344.20 M517.50,344.80 L520.98,349.00 M517.50,349.60 L520.98,353.80 " stroke="#3a3a3a" stroke-width="0.6" fill="none"/></g>
<line x1="517.2" y1="319.6" x2="517.2" y2="345.4" stroke="#888" stroke-width="1.1" />
<line x1="525.6" y1="319.6" x2="525.6" y2="345.4" stroke="#888" stroke-width="1.1" />
<clipPath id="hc2"><rect x="536.3" y="319.6" width="11.90" height="25.80"/></clipPath>
<g clip-path="url(#hc2)"><path d="M536.30,319.60 L548.20,307.70 M536.30,324.40 L548.20,312.50 M536.30,329.20 L548.20,317.30 M536.30,334.00 L548.20,322.10 M536.30,338.80 L548.20,326.90 M536.30,343.60 L548.20,331.70 M536.30,348.40 L548.20,336.50 M536.30,353.20 L548.20,341.30 M536.30,358.00 L548.20,346.10 M536.30,362.80 L548.20,350.90 M536.30,367.60 L548.20,355.70 " stroke="#3a3a3a" stroke-width="0.7" fill="none"/><path d="M536.60,307.70 L541.65,313.65 M536.60,312.50 L541.65,318.45 M536.60,317.30 L541.65,323.25 M536.60,322.10 L541.65,328.05 M536.60,326.90 L541.65,332.85 M536.60,331.70 L541.65,337.65 M536.60,336.50 L541.65,342.45 M536.60,341.30 L541.65,347.25 M536.60,346.10 L541.65,352.05 M536.60,350.90 L541.65,356.85 M536.60,355.70 L541.65,361.65 " stroke="#3a3a3a" stroke-width="0.6" fill="none"/></g>
<line x1="536.3" y1="319.6" x2="536.3" y2="345.4" stroke="#888" stroke-width="1.1" />
<line x1="548.2" y1="319.6" x2="548.2" y2="345.4" stroke="#888" stroke-width="1.1" />
<line x1="545.0" y1="319.6" x2="545.0" y2="345.4" stroke="#888" stroke-width="0.8" />
<line x1="526.6" y1="319.6" x2="526.6" y2="345.4" stroke="#888" stroke-width="0.8" />
<line x1="532.7" y1="319.6" x2="532.7" y2="345.4" stroke="#999" stroke-width="0.8" />
<line x1="533.9" y1="319.6" x2="533.9" y2="345.4" stroke="#999" stroke-width="0.8" />
<rect x="509.8" y="345.6" width="39.70" height="4.10" stroke="#888" stroke-width="0.9" fill="none" />
<rect x="527.6" y="349.7" width="6.60" height="9.20" stroke="#888" stroke-width="0.8" fill="none" />
<line x1="530.8" y1="349.7" x2="530.8" y2="358.9" stroke="#aaa" stroke-width="0.6" />
<clipPath id="hc3"><rect x="517.3" y="349.7" width="8.50" height="98.30"/></clipPath>
<g clip-path="url(#hc3)"><path d="M517.30,349.70 L525.80,341.20 M517.30,354.50 L525.80,346.00 M517.30,359.30 L525.80,350.80 M517.30,364.10 L525.80,355.60 M517.30,368.90 L525.80,360.40 M517.30,373.70 L525.80,365.20 M517.30,378.50 L525.80,370.00 M517.30,383.30 L525.80,374.80 M517.30,388.10 L525.80,379.60 M517.30,392.90 L525.80,384.40 M517.30,397.70 L525.80,389.20 M517.30,402.50 L525.80,394.00 M517.30,407.30 L525.80,398.80 M517.30,412.10 L525.80,403.60 M517.30,416.90 L525.80,408.40 M517.30,421.70 L525.80,413.20 M517.30,426.50 L525.80,418.00 M517.30,431.30 L525.80,422.80 M517.30,436.10 L525.80,427.60 M517.30,440.90 L525.80,432.40 M517.30,445.70 L525.80,437.20 M517.30,450.50 L525.80,442.00 M517.30,455.30 L525.80,446.80 M517.30,460.10 L525.80,451.60 M517.30,464.90 L525.80,456.40 " stroke="#3a3a3a" stroke-width="0.7" fill="none"/><path d="M517.60,341.20 L521.12,345.45 M517.60,346.00 L521.12,350.25 M517.60,350.80 L521.12,355.05 M517.60,355.60 L521.12,359.85 M517.60,360.40 L521.12,364.65 M517.60,365.20 L521.12,369.45 M517.60,370.00 L521.12,374.25 M517.60,374.80 L521.12,379.05 M517.60,379.60 L521.12,383.85 M517.60,384.40 L521.12,388.65 M517.60,389.20 L521.12,393.45 M517.60,394.00 L521.12,398.25 M517.60,398.80 L521.12,403.05 M517.60,403.60 L521.12,407.85 M517.60,408.40 L521.12,412.65 M517.60,413.20 L521.12,417.45 M517.60,418.00 L521.12,422.25 M517.60,422.80 L521.12,427.05 M517.60,427.60 L521.12,431.85 M517.60,432.40 L521.12,436.65 M517.60,437.20 L521.12,441.45 M517.60,442.00 L521.12,446.25 M517.60,446.80 L521.12,451.05 M517.60,451.60 L521.12,455.85 M517.60,456.40 L521.12,460.65 " stroke="#3a3a3a" stroke-width="0.6" fill="none"/></g>
<line x1="517.3" y1="349.7" x2="517.3" y2="448" stroke="#888" stroke-width="1.1" />
<line x1="525.8" y1="349.7" x2="525.8" y2="448" stroke="#888" stroke-width="1.1" />
<clipPath id="hc4"><rect x="536.4" y="349.7" width="12.00" height="98.30"/></clipPath>
<g clip-path="url(#hc4)"><path d="M536.40,349.70 L548.40,337.70 M536.40,354.50 L548.40,342.50 M536.40,359.30 L548.40,347.30 M536.40,364.10 L548.40,352.10 M536.40,368.90 L548.40,356.90 M536.40,373.70 L548.40,361.70 M536.40,378.50 L548.40,366.50 M536.40,383.30 L548.40,371.30 M536.40,388.10 L548.40,376.10 M536.40,392.90 L548.40,380.90 M536.40,397.70 L548.40,385.70 M536.40,402.50 L548.40,390.50 M536.40,407.30 L548.40,395.30 M536.40,412.10 L548.40,400.10 M536.40,416.90 L548.40,404.90 M536.40,421.70 L548.40,409.70 M536.40,426.50 L548.40,414.50 M536.40,431.30 L548.40,419.30 M536.40,436.10 L548.40,424.10 M536.40,440.90 L548.40,428.90 M536.40,445.70 L548.40,433.70 M536.40,450.50 L548.40,438.50 M536.40,455.30 L548.40,443.30 M536.40,460.10 L548.40,448.10 M536.40,464.90 L548.40,452.90 M536.40,469.70 L548.40,457.70 " stroke="#3a3a3a" stroke-width="0.7" fill="none"/><path d="M536.70,337.70 L541.80,343.70 M536.70,342.50 L541.80,348.50 M536.70,347.30 L541.80,353.30 M536.70,352.10 L541.80,358.10 M536.70,356.90 L541.80,362.90 M536.70,361.70 L541.80,367.70 M536.70,366.50 L541.80,372.50 M536.70,371.30 L541.80,377.30 M536.70,376.10 L541.80,382.10 M536.70,380.90 L541.80,386.90 M536.70,385.70 L541.80,391.70 M536.70,390.50 L541.80,396.50 M536.70,395.30 L541.80,401.30 M536.70,400.10 L541.80,406.10 M536.70,404.90 L541.80,410.90 M536.70,409.70 L541.80,415.70 M536.70,414.50 L541.80,420.50 M536.70,419.30 L541.80,425.30 M536.70,424.10 L541.80,430.10 M536.70,428.90 L541.80,434.90 M536.70,433.70 L541.80,439.70 M536.70,438.50 L541.80,444.50 M536.70,443.30 L541.80,449.30 M536.70,448.10 L541.80,454.10 M536.70,452.90 L541.80,458.90 M536.70,457.70 L541.80,463.70 " stroke="#3a3a3a" stroke-width="0.6" fill="none"/></g>
<line x1="536.4" y1="349.7" x2="536.4" y2="448" stroke="#888" stroke-width="1.1" />
<line x1="548.4" y1="349.7" x2="548.4" y2="448" stroke="#888" stroke-width="1.1" />
<line x1="545.0" y1="349.7" x2="545.0" y2="448" stroke="#888" stroke-width="0.8" />
<path d="M515.5,384.5 C518.5,381.5 523,381 527.5,383 L527.5,387 C523,385 518.5,385.5 515.5,388.5 Z" fill="#fff"/>
<path d="M516,384.2 C519,381.8 523,381.5 527,382.8" fill="none" stroke="#777" stroke-width="0.8"/>
<path d="M516,387.6 C519,385.4 523,385 527,386.4" fill="none" stroke="#777" stroke-width="0.8"/>
<path d="M535,386 C539,388.5 545,388.3 550,385.5 L550,389.5 C545,392.3 539,392.5 535,390 Z" fill="#fff"/>
<path d="M535.5,386.4 C539.5,388.8 545,388.6 549.5,386" fill="none" stroke="#777" stroke-width="0.8"/>
<path d="M535.5,390.2 C539.5,392.6 545,392.4 549.5,389.8" fill="none" stroke="#777" stroke-width="0.8"/>
<rect x="516.2" y="440.3" width="11.00" height="7.70" stroke="#aaa" stroke-width="0.7" fill="none" />
<path d="M517.5,448.2 H526.5 Q529,448.5 528.6,454 Q529,459.8 526.5,460 H517.5 Q515,459.8 515.4,454 Q515,448.5 517.5,448.2 Z" fill="#fff" stroke="#666" stroke-width="1.1"/>
<line x1="516.5" y1="449.2" x2="527.5" y2="449.2" stroke="#222" stroke-width="1.2" />
<rect x="516.5" y="457.4" width="11.00" height="2.80" stroke="none" stroke-width="0" fill="#888" />
<rect x="536.4" y="448" width="12.20" height="12.40" stroke="#777" stroke-width="1" fill="none" />
<line x1="536.4" y1="449.6" x2="548.6" y2="449.6" stroke="#555" stroke-width="1.2" />
<line x1="544.7" y1="448" x2="544.7" y2="460.4" stroke="#777" stroke-width="0.9" />
<rect x="536.4" y="457.6" width="8.30" height="2.80" stroke="none" stroke-width="0" fill="#888" />
<line x1="544.7" y1="451.8" x2="548.6" y2="451.8" stroke="#222" stroke-width="1" />
<path d="M513,460.7 H551.4 Q553.4,460.7 553.4,462.7 V467.8 Q553.4,469.8 551.4,469.8 H513 Q511.1,469.8 511.1,467.8 V462.7 Q511.1,460.7 513,460.7 Z" fill="#fff" stroke="#777" stroke-width="1"/>
<line x1="511.1" y1="463.7" x2="553.4" y2="463.7" stroke="#aaa" stroke-width="0.7" />
<line x1="515.7" y1="463.7" x2="515.7" y2="469.8" stroke="#999" stroke-width="0.7" />
<line x1="518.7" y1="463.7" x2="518.7" y2="469.8" stroke="#999" stroke-width="0.7" />
<line x1="525.4" y1="463.7" x2="525.4" y2="469.8" stroke="#999" stroke-width="0.7" />
<line x1="527.9" y1="463.7" x2="527.9" y2="469.8" stroke="#999" stroke-width="0.7" />
<line x1="531.5" y1="463.7" x2="531.5" y2="469.8" stroke="#999" stroke-width="0.7" />
<rect x="531.5" y="468.6" width="19.50" height="1.60" stroke="none" stroke-width="0" fill="#aaa" />
<line x1="522" y1="367.5" x2="593" y2="367.5" stroke="#959595" stroke-width="1" />
<polygon points="523.80,364.50 523.80,370.50 518.40,367.50" fill="#000"/>
<polygon points="543.40,364.50 543.40,370.50 548.80,367.50" fill="#000"/>
<rect x="289.1" y="314.6" width="42.60" height="4.70" stroke="#000" stroke-width="1.8" fill="#fff" rx="1"/>
<rect x="510.4" y="315.4" width="44.10" height="3.90" stroke="#000" stroke-width="1.8" fill="#fff" rx="1"/>
</svg>
</body></html>
